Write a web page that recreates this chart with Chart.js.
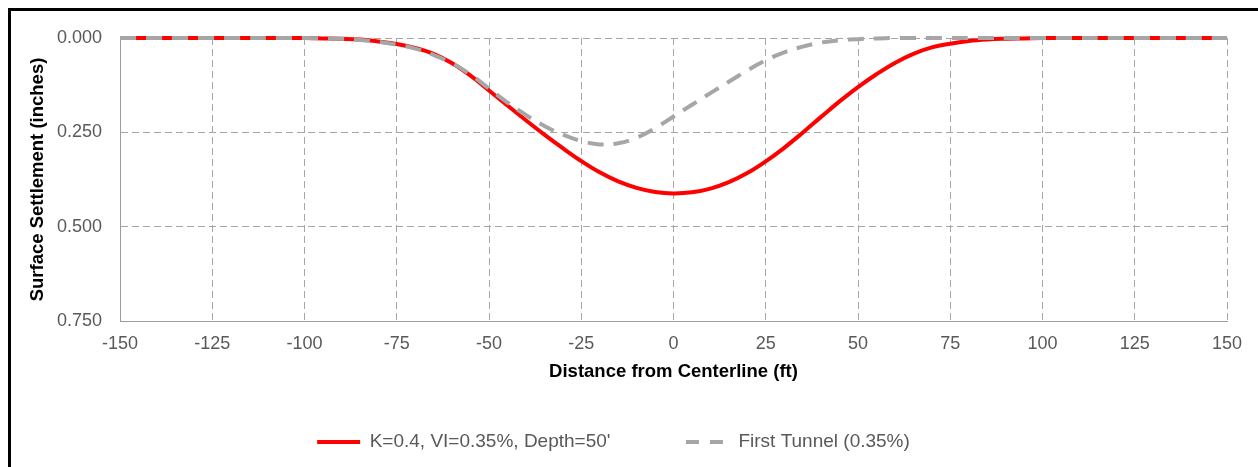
<!DOCTYPE html>
<html>
<head>
<meta charset="utf-8">
<script src="https://cdn.jsdelivr.net/npm/chart.js@4"></script>
<style>
  html, body { margin: 0; padding: 0; background: #ffffff; overflow: hidden; }
  #wrap { position: relative; width: 1258px; height: 467px; }
  #frame { position: absolute; left: 8px; top: 8px; width: 1270px; height: 480px;
           border-left: 3px solid #000; border-top: 3px solid #000; pointer-events: none; }
  canvas { position: absolute; left: 0; top: 0; }
</style>
</head>
<body>
<div id="wrap">
  <canvas id="c" width="1258" height="467"></canvas>
  <div id="frame"></div>
</div>
<script>
// ---- data ----
const distances = [-150, -125, -100, -95, -90, -85, -80, -75, -70, -65, -60, -55, -50, -45, -40, -35, -30, -25, -20, -15, -10, -5, 0,
                   5, 10, 15, 20, 25, 30, 35, 40, 45, 50, 55, 60, 65, 70, 75, 80, 85, 90, 95, 100, 125, 150];
const settlementK04 = [0, 0, 0, 0.001, 0.002, 0.004, 0.009, 0.016, 0.026, 0.042, 0.067, 0.100, 0.139, 0.179, 0.218, 0.256, 0.292, 0.326, 0.356, 0.380, 0.397, 0.408, 0.412,
                       0.409, 0.399, 0.382, 0.358, 0.327, 0.291, 0.251, 0.209, 0.168, 0.130, 0.096, 0.066, 0.042, 0.025, 0.015, 0.008, 0.004, 0.002, 0.001, 0, 0, 0];
const settlementFirstTunnel = [0, 0, 0, 0.001, 0.002, 0.005, 0.010, 0.018, 0.028, 0.045, 0.067, 0.097, 0.134, 0.171, 0.204, 0.233, 0.256, 0.273, 0.282, 0.279, 0.264, 0.239, 0.208,
                               0.177, 0.146, 0.116, 0.086, 0.059, 0.038, 0.023, 0.012, 0.006, 0.003, 0.001, 0, 0, 0, 0, 0, 0, 0, 0, 0, 0, 0];
const xTickValues = [-150, -125, -100, -75, -50, -25, 0, 25, 50, 75, 100, 125, 150];
const yTickValues = [0, 0.25, 0.5, 0.75];
const seriesLabels = ["K=0.4, VI=0.35%, Depth=50'", "First Tunnel (0.35%)"];
const legendDashes = [[], [13, 11]];

Chart.defaults.font.family = "'Liberation Sans', Arial, sans-serif";

const toPoints = (vals) => distances.map((x, i) => ({ x: x, y: vals[i] }));

new Chart(document.getElementById('c'), {
  type: 'line',
  data: {
    datasets: [
      {
        label: seriesLabels[1],
        data: toPoints(settlementFirstTunnel),
        borderColor: '#A6A6A6',
        backgroundColor: '#A6A6A6',
        borderWidth: 4,
        borderDash: [16, 10],
        pointRadius: 0,
        tension: 0.4,
        fill: false,
        clip: false,
        legendIndex: 1
      },
      {
        label: seriesLabels[0],
        data: toPoints(settlementK04),
        borderColor: '#FF0000',
        backgroundColor: '#FF0000',
        borderWidth: 4,
        pointRadius: 0,
        tension: 0.4,
        fill: false,
        clip: false,
        legendIndex: 0
      }
    ]
  },
  options: {
    responsive: false,
    animation: false,
    devicePixelRatio: 1,
    events: [],
    layout: { padding: { left: 0, top: 38, right: 31, bottom: 5.5 } },
    plugins: {
      tooltip: { enabled: false },
      legend: {
        position: 'bottom',
        reverse: true,
        labels: {
          usePointStyle: true,
          pointStyle: 'line',
          pointStyleWidth: 43,
          padding: 75.5,
          color: '#595959',
          font: { size: 19 },
          generateLabels(chart) {
            const items = Chart.defaults.plugins.legend.labels.generateLabels(chart);
            items.forEach(it => {
              const ds = chart.data.datasets[it.datasetIndex];
              it.pointStyle = 'line';
              it.strokeStyle = ds.borderColor;
              it.fillStyle = ds.borderColor;
              it.lineWidth = ds.borderWidth;
              it.lineDash = legendDashes[ds.legendIndex];
              it.fontColor = '#595959';
            });
            return items;
          }
        }
      }
    },
    scales: {
      x: {
        type: 'linear',
        min: -150,
        max: 150,
        afterBuildTicks: (s) => { s.ticks = xTickValues.map(v => ({ value: v })); },
        afterFit: (s) => { s.height = 36; },
        grid: { color: '#A6A6A6', lineWidth: 1, drawTicks: false },
        border: { display: true, color: '#9C9C9C', width: 1, dash: [7, 4] },
        ticks: { color: '#595959', font: { size: 18 }, padding: 12, maxRotation: 0, autoSkip: false },
        title: {
          display: true,
          text: 'Distance from Centerline (ft)',
          color: '#000000',
          font: { size: 18.5, weight: 'bold' },
          padding: { top: 0, bottom: -26 }
        }
      },
      y: {
        type: 'linear',
        min: 0,
        max: 0.75,
        reverse: true,
        afterBuildTicks: (s) => { s.ticks = yTickValues.map(v => ({ value: v })); },
        afterFit: (s) => { s.width = 120; },
        grid: { color: '#A6A6A6', lineWidth: 1, drawTicks: false },
        border: { display: true, color: '#9C9C9C', width: 1, dash: [7, 4] },
        ticks: { color: '#595959', font: { size: 18 }, padding: 18, callback: (v) => Number(v).toFixed(3) },
        title: {
          display: true,
          text: 'Surface Settlement (inches)',
          color: '#000000',
          font: { size: 18.5, weight: 'bold' },
          padding: { top: 27, bottom: 0 }
        }
      }
    }
  }
});
</script>
</body>
</html>
